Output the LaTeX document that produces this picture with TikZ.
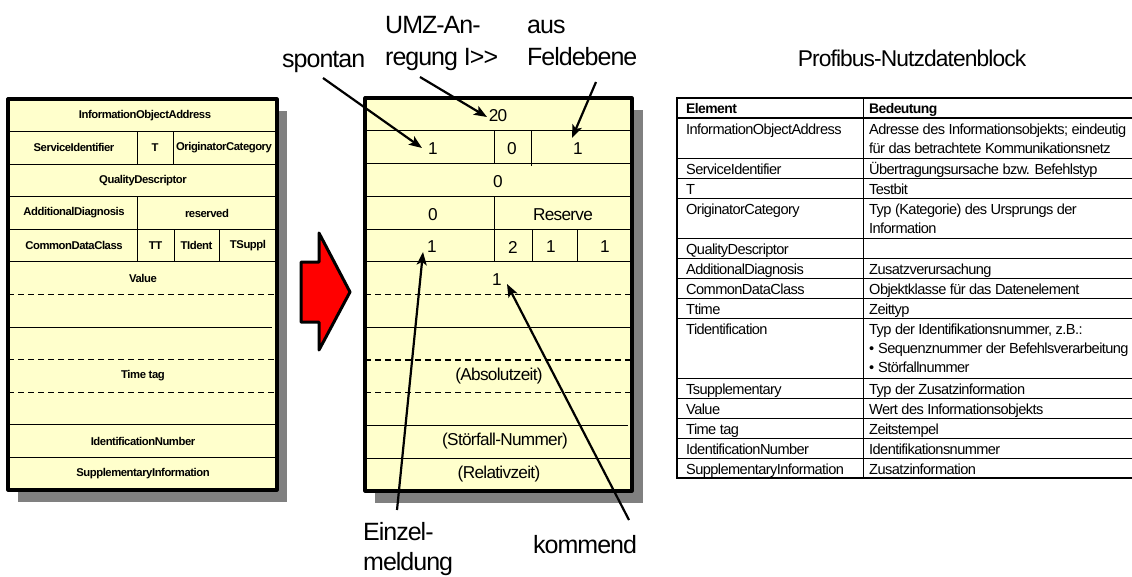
\documentclass[tikz,border=0pt]{standalone}
\usepackage{fontspec}
\setmainfont{Liberation Sans}[LetterSpace=-4]
\newfontfamily\tightfont{Liberation Sans}[LetterSpace=-4]
\usetikzlibrary{arrows.meta}
\definecolor{boxfill}{HTML}{FFFFCC}
\definecolor{shadowgray}{HTML}{808080}
\definecolor{arrowred}{HTML}{FF0000}

\begin{document}
\begin{tikzpicture}[x=1pt,y=-1pt,
  shade/.style={fill=shadowgray, draw=none},
  frame/.style={line width=3.2pt, line join=round},
  rule/.style={line width=1pt},
  dashrule/.style={line width=1.3pt, dash pattern=on 6pt off 4pt},
  fieldtxt/.style={font=\tightfont\bfseries\fontsize{11.3}{13}\selectfont, inner sep=0pt},
  valtxt/.style={font=\tightfont\fontsize{17.2}{19}\selectfont, inner sep=0pt},
  callout/.style={font=\tightfont\fontsize{25}{28}\selectfont, inner sep=0pt, anchor=base west},
  pointer/.style={line width=2.2pt, -{Stealth[length=13pt,width=10pt,inset=3pt]}},
  tabtxt/.style={font=\tightfont\fontsize{14.6}{16}\selectfont, inner sep=0pt, anchor=base west},
  tabhead/.style={tabtxt, font=\tightfont\bfseries\fontsize{13.9}{16}\selectfont},
  tabrule/.style={line width=1pt},
  tabthick/.style={line width=2.4pt}]

\useasboundingbox (0,0) rectangle (1132,576);

% ---------- field layout (left) ----------
\fill[shade] (18,111) rectangle (287,502);
\fill[boxfill] (8,99) rectangle (277,490);
\foreach \y in {131.6,164.2,196.7,229.3,261.9,424.8,457.4}
  \draw[rule] (8,\y) -- (277,\y);
\draw[rule] (8,327.1) -- (272,327.1);
\foreach \y in {294.5,359.7,392.2}
  \draw[dashrule] (8,\y) -- (277,\y);
\draw[rule] (137,131.6) -- (137,164.2);
\draw[rule] (173,131.6) -- (173,164.2);
\draw[rule] (137,196.7) -- (137,261.9);
\draw[rule] (174,229.3) -- (174,261.9);
\draw[rule] (219,229.3) -- (219,261.9);
\draw[frame] (8,99) rectangle (277,490);

\node[fieldtxt] (ioa) at (145,115.3) {InformationObjectAddress};
\node[fieldtxt] (si)  at (74,147.9) {ServiceIdentifier};
\node[fieldtxt] (t)   at (155,147.9) {T};
\node[fieldtxt] (oc)  at (224,147.9) {OriginatorCategory};
\node[fieldtxt] (qd)  at (143,180.5) {QualityDescriptor};
\node[fieldtxt] (ad)  at (74,213) {AdditionalDiagnosis};
\node[fieldtxt] (res) at (207,213) {reserved};
\node[fieldtxt] (cdc) at (74,245.6) {CommonDataClass};
\node[fieldtxt] (tt)  at (155.5,245.6) {TT};
\node[fieldtxt] (tid) at (196.5,245.6) {TIdent};
\node[fieldtxt] (tsu) at (248,245.6) {TSuppl};
\node[fieldtxt] (val) at (143,278.2) {Value};
\node[fieldtxt] (tag) at (143,376) {Time tag};
\node[fieldtxt] (idn) at (143,441.1) {IdentificationNumber};
\node[fieldtxt] (sup) at (143,473.7) {SupplementaryInformation};

% ---------- block arrow ----------
\draw[line width=3pt, line join=round, fill=arrowred]
  (301,262) -- (319,262) -- (319,233) -- (350,292) -- (319,350)
  -- (319,322) -- (301,322) -- cycle;

% ---------- example values (middle) ----------
\fill[shade] (375,110) rectangle (643,503);
\fill[boxfill] (365,98) rectangle (632,491);
\foreach \y in {130.75,163.5,196.25,229,261.75,458.25}
  \draw[rule] (365,\y) -- (632,\y);
\draw[rule] (365,327.25) -- (632,327.25);
\draw[rule] (365,425.5) -- (628,425.5);
\foreach \y in {294.5,360,392.75}
  \draw[dashrule] (365,\y) -- (632,\y);
\draw[rule] (494,130.75) -- (494,163.5);
\draw[rule] (531,130.75) -- (531,165.5);
\draw[rule] (494,196.25) -- (494,261.75);
\draw[rule] (532,229) -- (532,261.75);
\draw[rule] (577,229) -- (577,261.75);
\draw[frame] (365,98) rectangle (632,491);

\node[valtxt] (v20)  at (498,116) {20};
\node[valtxt] (vsp)  at (433,149) {1};
\node[valtxt] (vt)   at (512,149) {0};
\node[valtxt] (vfe)  at (578,149) {1};
\node[valtxt] (vqd)  at (498,182) {0};
\node[valtxt] (vad)  at (433,214.5) {0};
\node[valtxt] (vres) at (563,214.5) {Reserve};
\node[valtxt] (vcd)  at (432,247) {1};
\node[valtxt] (vtt)  at (513,247) {2};
\node[valtxt] (vti)  at (551,247) {1};
\node[valtxt] (vts)  at (605,247) {1};
\node[valtxt] (vval) at (497,280) {1};
\node[valtxt] (vabs) at (499,376.5) {(Absolutzeit)};
\node[valtxt] (vstf) at (505,441.5) {(Störfall-Nummer)};
\node[valtxt] (vrel) at (499,474) {(Relativzeit)};

% ---------- callouts ----------
\node[callout] (spontan) at (282,67) {spontan};
\node[callout] (umza)    at (385,33) {UMZ-An-};
\node[callout] (umzb)    at (385,65) {regung I>>};
\node[callout] (ausa)    at (527,33) {aus};
\node[callout] (ausb)    at (527,65) {Feldebene};
\node[callout] (einza)   at (363,540) {Einzel-};
\node[callout] (einzb)   at (363,570) {meldung};
\node[callout] (komm)    at (533,553) {kommend};

\coordinate (spS) at (323,78);   \coordinate (spE) at (422,148);
\coordinate (umS) at (420,77);   \coordinate (umE) at (487,117);
\coordinate (feS) at (596,82);   \coordinate (feE) at (572,138);
\coordinate (eiS) at (397,510);  \coordinate (eiE) at (423,252);
\coordinate (koS) at (629,520);  \coordinate (koE) at (507,284);
\draw[pointer] (spS) -- (spE);
\draw[pointer] (umS) -- (umE);
\draw[pointer] (feS) -- (feE);
\draw[pointer] (eiS) -- (eiE);
\draw[pointer] (koS) -- (koE);

% ---------- element table ----------
\node[font=\tightfont\fontsize{22.8}{25}\selectfont, inner sep=0pt, anchor=base]
  (title) at (912,66) {Profibus-Nutzdatenblock};

\foreach \y in {158,178,198,238,258,278,298,318,378,398,418,438,458}
  \draw[tabrule] (677,\y) -- (1132,\y);
\draw[tabrule] (863,98) -- (863,478);
\draw[tabthick] (677,98) -- (1132,98);
\draw[tabthick] (677,118) -- (1132,118);
\draw[tabthick] (677,478) -- (1132,478);
\draw[tabthick] (677,96.8) -- (677,479.2);

\node[tabhead] (hel) at (686,113) {Element};
\node[tabhead] (hbe) at (869,113) {Bedeutung};

\node[tabtxt] (e1)  at (686,134) {InformationObjectAddress};
\node[tabtxt] (d1a) at (869,134) {Adresse des Informationsobjekts; eindeutig};
\node[tabtxt] (d1b) at (869,153) {für das betrachtete Kommunikationsnetz};
\node[tabtxt] (e2)  at (686,174) {ServiceIdentifier};
\node[tabtxt] (d2)  at (869,174) {Übertragungsursache bzw. Befehlstyp};
\node[tabtxt] (e3)  at (686,194) {T};
\node[tabtxt] (d3)  at (869,194) {Testbit};
\node[tabtxt] (e4)  at (686,214) {OriginatorCategory};
\node[tabtxt] (d4a) at (869,214) {Typ (Kategorie) des Ursprungs der};
\node[tabtxt] (d4b) at (869,233) {Information};
\node[tabtxt] (e5)  at (686,254) {QualityDescriptor};
\node[tabtxt] (e6)  at (686,274) {AdditionalDiagnosis};
\node[tabtxt] (d6)  at (869,274) {Zusatzverursachung};
\node[tabtxt] (e7)  at (686,294) {CommonDataClass};
\node[tabtxt] (d7)  at (869,294) {Objektklasse für das Datenelement};
\node[tabtxt] (e8)  at (686,314) {Ttime};
\node[tabtxt] (d8)  at (869,314) {Zeittyp};
\node[tabtxt] (e9)  at (686,334) {Tidentification};
\node[tabtxt] (d9a) at (869,334) {Typ der Identifikationsnummer, z.B.:};
\node[tabtxt] (b9b) at (869,353) {•};
\node[tabtxt] (d9b) at (878,353) {Sequenznummer der Befehlsverarbeitung};
\node[tabtxt] (b9c) at (869,372) {•};
\node[tabtxt] (d9c) at (878,372) {Störfallnummer};
\node[tabtxt] (e10) at (686,394) {Tsupplementary};
\node[tabtxt] (d10) at (869,394) {Typ der Zusatzinformation};
\node[tabtxt] (e11) at (686,414) {Value};
\node[tabtxt] (d11) at (869,414) {Wert des Informationsobjekts};
\node[tabtxt] (e12) at (686,434) {Time tag};
\node[tabtxt] (d12) at (869,434) {Zeitstempel};
\node[tabtxt] (e13) at (686,454) {IdentificationNumber};
\node[tabtxt] (d13) at (869,454) {Identifikationsnummer};
\node[tabtxt] (e14) at (686,474) {SupplementaryInformation};
\node[tabtxt] (d14) at (869,474) {Zusatzinformation};
\end{tikzpicture}
\end{document}
